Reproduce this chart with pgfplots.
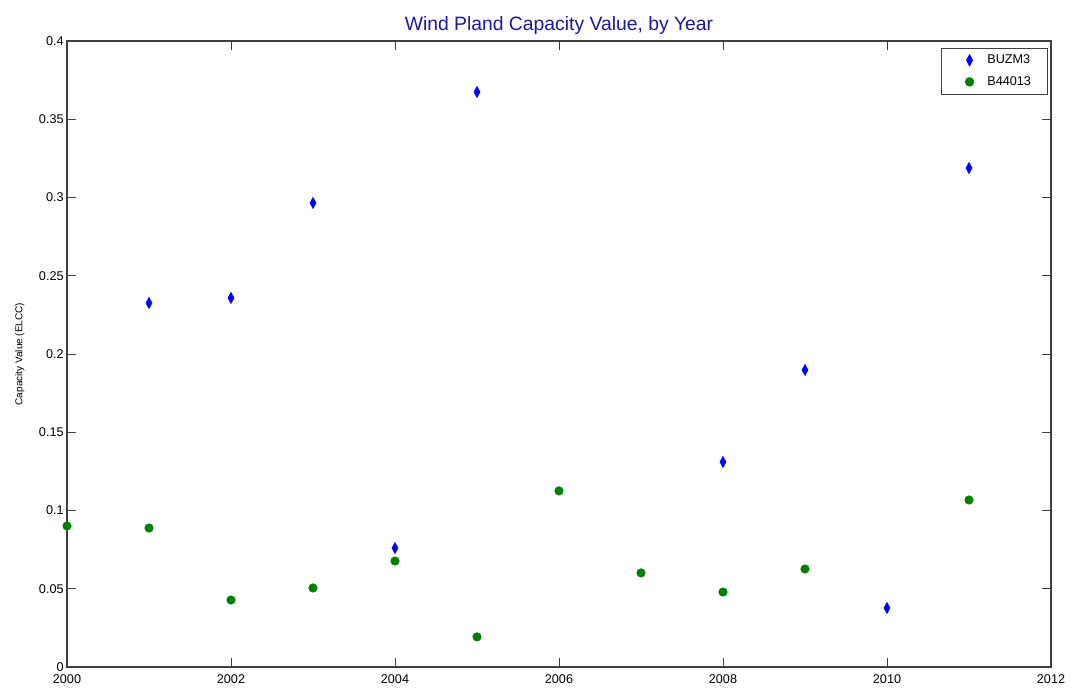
\documentclass[border=0pt]{standalone}
\usepackage{fontspec}
\setmainfont{Liberation Sans}
\usepackage{pgfplots}
\pgfplotsset{compat=1.18}
\definecolor{mblue}{rgb}{0,0,1}
\definecolor{mgreen}{rgb}{0,0.5,0}
\definecolor{tblue}{rgb}{0.1,0.1,0.62}
\definecolor{axgray}{rgb}{0.25,0.25,0.25}
\begin{document}
\begin{tikzpicture}
\begin{axis}[
  scale only axis,
  width=738pt, height=469.5pt,
  xmin=2000, xmax=2012, ymin=0, ymax=0.4,
  xtick={2000,2002,...,2012},
  ytick={0,0.05,...,0.4},
  yticklabels={0,0.05,0.1,0.15,0.2,0.25,0.3,0.35,0.4},
  xticklabel style={/pgf/number format/1000 sep={}},
  tick align=inside,
  major tick length=7pt,
  tick style={axgray, line width=0.6pt},
  axis line style={axgray, line width=0.8pt},
  /pgf/number format/assume math mode=true,
  tick label style={font=\fontsize{9.5}{11}\selectfont, text=black},
  xticklabel style={yshift=-2pt},
  yticklabel style={xshift=1pt},
  title={Wind Pland Capacity Value, by Year},
  title style={font=\fontsize{14.5}{16}\selectfont, text=tblue, yshift=-5pt},
  ylabel={Capacity Value (ELCC)},
  ylabel style={font=\fontsize{7.5}{9}\selectfont, yshift=4pt},
  legend style={at={(rel axis cs:0.997,0.989)}, anchor=north east,
    draw=axgray, line width=0.6pt, font=\fontsize{9.5}{11}\selectfont,
    inner xsep=10.5pt, inner ysep=3pt, row sep=4pt},
  legend cell align=left,
  legend image code/.code={\path (0pt,0pt) (21.5pt,0pt); \draw[#1] plot coordinates {(10.5pt,0pt)};},
]
\addplot[only marks, mark=diamond*, mark size=4.2pt, mark options={fill=mblue, draw=mblue, xscale=0.72}]
coordinates {
(2001,0.2326) (2002,0.2358) (2003,0.2965) (2004,0.0760) (2005,0.3674)
(2008,0.1310) (2009,0.1898) (2010,0.0377) (2011,0.3188)
};
\addlegendentry{BUZM3}
\addplot[only marks, mark=*, mark size=3.2pt, mark options={fill=mgreen, draw=mgreen}]
coordinates {
(2000,0.0901) (2001,0.0888) (2002,0.0428) (2003,0.0505) (2004,0.0677)
(2005,0.0192) (2006,0.1125) (2007,0.0601) (2008,0.0479) (2009,0.0626)
(2011,0.1067)
};
\addlegendentry{B44013}
\coordinate (bl) at (rel axis cs:0,0);
\coordinate (tr) at (rel axis cs:1,1);
\end{axis}
\pgfresetboundingbox
\path ([shift={(-50.25pt,-17.25pt)}]bl) rectangle ([shift={(18.75pt,30.75pt)}]tr);
\end{tikzpicture}
\end{document}
